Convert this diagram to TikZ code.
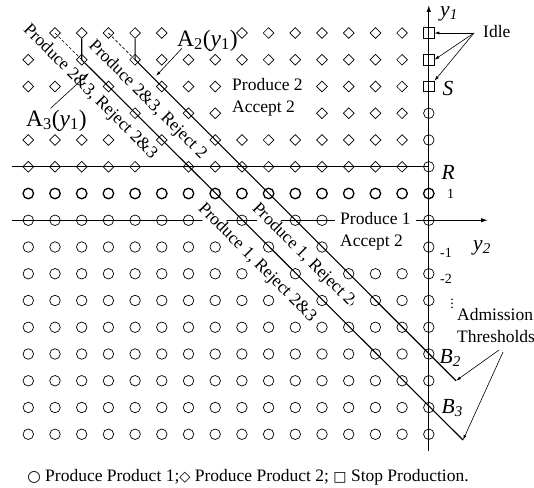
\documentclass[tikz,border=0pt]{standalone}
\usepackage{fontspec}
\setmainfont{Liberation Serif}
\newfontfamily\symfont{DejaVu Sans}
\usetikzlibrary{positioning,arrows.meta,shapes.geometric}

\begin{document}
\begin{tikzpicture}[x=1pt, y=-1pt,
  font=\fontsize{17.5}{22}\selectfont,
  pone/.style={draw, circle, minimum size=10.5pt, inner sep=0pt, line width=0.7pt},
  ponebold/.style={pone, line width=1.3pt},
  ptwo/.style={draw, diamond, minimum size=11pt, inner sep=0pt, line width=0.7pt},
  pidle/.style={draw, rectangle, minimum size=10.5pt, inner sep=0pt, line width=0.7pt},
  axis/.style={line width=1.1pt, -{Latex[length=7pt,width=4.5pt]}},
  bound/.style={line width=1.1pt},
  guide/.style={line width=0.6pt, dash pattern=on 3pt off 2pt},
  note/.style={line width=0.6pt, -{Latex[length=5pt,width=3pt]}},
  region/.style={align=left, fill=white, inner sep=5pt, anchor=west},
  act/.style={rotate=-45, fill=white, inner sep=0.5pt},
  thr/.style={font=\fontsize{23.5}{24}\selectfont, inner sep=0pt, anchor=base west},
  lbl/.style={font=\fontsize{21.5}{22}\selectfont\itshape, inner sep=0pt, anchor=base west},
  num/.style={font=\fontsize{14}{14}\selectfont, inner sep=0pt, anchor=base west}
]
\useasboundingbox (0,0) rectangle (534,487);

\foreach \r/\cl in {0/{1,2,3,4,5,8,9,10,11,12,13,14},
                   1/{0,2,4,5,6,7,8,9,10,11,12,13,14},
                   2/{0,1,3,5,6,7,11,12,13,14},
                   3/{4,6,7,11,12,13,14},
                   4/{0,1,2,3,5,7,8,9,10,11,12,13,14},
                   5/{0,1,2,3,4,6,7,8,9,10,11,12,13,14}}
  \foreach \c in \cl
    \node[ptwo] (p\c-\r) at ({28.3+26.7*\c},{33+26.75*\r}) {};
\foreach \r in {0,1,2}
  \node[pidle] (p15-\r) at ({28.3+26.7*15},{33+26.75*\r}) {};
\foreach \r in {3,4,5}
  \node[pone] (p15-\r) at ({28.3+26.7*15},{33+26.75*\r}) {};
\foreach \c in {0,...,15}
  \node[ponebold] (p\c-6) at ({28.3+26.7*\c},{33+26.75*6}) {};
\foreach \r/\cl in {7/{0,1,2,3,4,5,6,8,10,11,15},
                   8/{0,1,2,3,4,5,6,7,9,11,15},
                   9/{0,1,2,3,4,5,6,7,8,10,12,13,14,15},
                   10/{0,1,2,3,4,5,6,7,8,9,11,12,13,14,15},
                   11/{0,...,15}, 12/{0,...,15}, 13/{0,...,15},
                   14/{0,...,15}, 15/{0,...,15}}
  \foreach \c in \cl
    \node[pone] (p\c-\r) at ({28.3+26.7*\c},{33+26.75*\r}) {};

\coordinate (ytop) at (428.8,5);
\coordinate (ybot) at (428.8,451);
\coordinate (xleft) at (12,220.25);
\coordinate (xright) at (488,220.25);
\coordinate (rleft) at (12,166.75);
\coordinate (b2end) at (456,380.75);
\coordinate (b3end) at (463,440);

\draw[axis] (ybot) -- (ytop);
\draw[axis] (xleft) -- (xright);
\draw[bound] (rleft) -- (p15-5.center);
\draw[guide] (p1-0.center) -- (p2-1.center);
\draw[guide] (p3-0.center) -- (p4-1.center);
\draw[bound] (p2-0.south) -- (p2-1.center) -- (b3end);
\draw[bound] (p4-0.south) -- (p4-1.center) -- (b2end);

\node[act] (t23r23) at (90,92) {Produce 2\&3, Reject 2\&3};
\node[act] (t23r2) at (147.5,100) {Produce 2\&3, Reject 2};
\node[act] (t1r2) at (303,254.5) {Produce 1, Reject 2};
\node[act] (t1r23) at (257,263) {Produce 1, Reject 2\&3};
\node[region] (reg2) at (227,97) {Produce 2\\Accept 2};
\node[region] (reg1) at (335,231.5) {Produce 1\\Accept 2};

\node[thr] (a2lbl) at (177,46) {A\textsubscript{2}(\textit{y}\textsubscript{1})};
\node[thr] (a3lbl) at (26,126) {A\textsubscript{3}(\textit{y}\textsubscript{1})};
\coordinate (a2tip) at (156,76);
\coordinate (a3tip) at (89,73);
\draw[note] (a2lbl.south west) ++(5,-3) -- (a2tip);
\draw[note] (a3lbl.north) ++(-6,-1) -- (a3tip);

\node[lbl] (y1lbl) at (440,16.5) {y\textsubscript{1}};
\node[lbl] (y2lbl) at (473,250) {y\textsubscript{2}};
\node[lbl] (slbl) at (442.5,95.5) {S};
\node[lbl] (rlbl) at (441.5,179) {R};
\node[lbl] (b2lbl) at (439.5,363.5) {B\textsubscript{2}};
\node[lbl] (b3lbl) at (441.5,413.5) {B\textsubscript{3}};
\node[num] (one) at (447,198) {1};
\node[num] (mone) at (440,257) {-1};
\node[num] (mtwo) at (440,283) {-2};
\node[num, anchor=center] (vdots) at (452,301) {$\vdots$};

\node[inner sep=0pt, anchor=base west] (idle) at (483,37.3) {Idle};
\coordinate (idlefrom) at (474,33);
\draw[note] (idlefrom) -- (p15-0.east);
\draw[note] (idlefrom) -- (p15-1.east);
\draw[note] (idlefrom) -- (p15-2.north east);

\node[align=left, inner sep=0pt, anchor=west] (adm) at (457,326) {Admission\\Thresholds};
\coordinate (admfrom1) at (499,350);
\coordinate (admfrom2) at (503,352);
\draw[note] (admfrom1) -- (b2end);
\draw[note] (admfrom2) -- (b3end);

\node[inner sep=0pt, anchor=base] (legend) at (248,481.7) {{\symfont\fontsize{15.5}{15}\selectfont ○} Produce Product 1;{\symfont\fontsize{14.5}{15}\selectfont ◇} Produce Product 2; {\symfont\fontsize{14}{15}\selectfont □} Stop Production.};
\end{tikzpicture}
\end{document}
